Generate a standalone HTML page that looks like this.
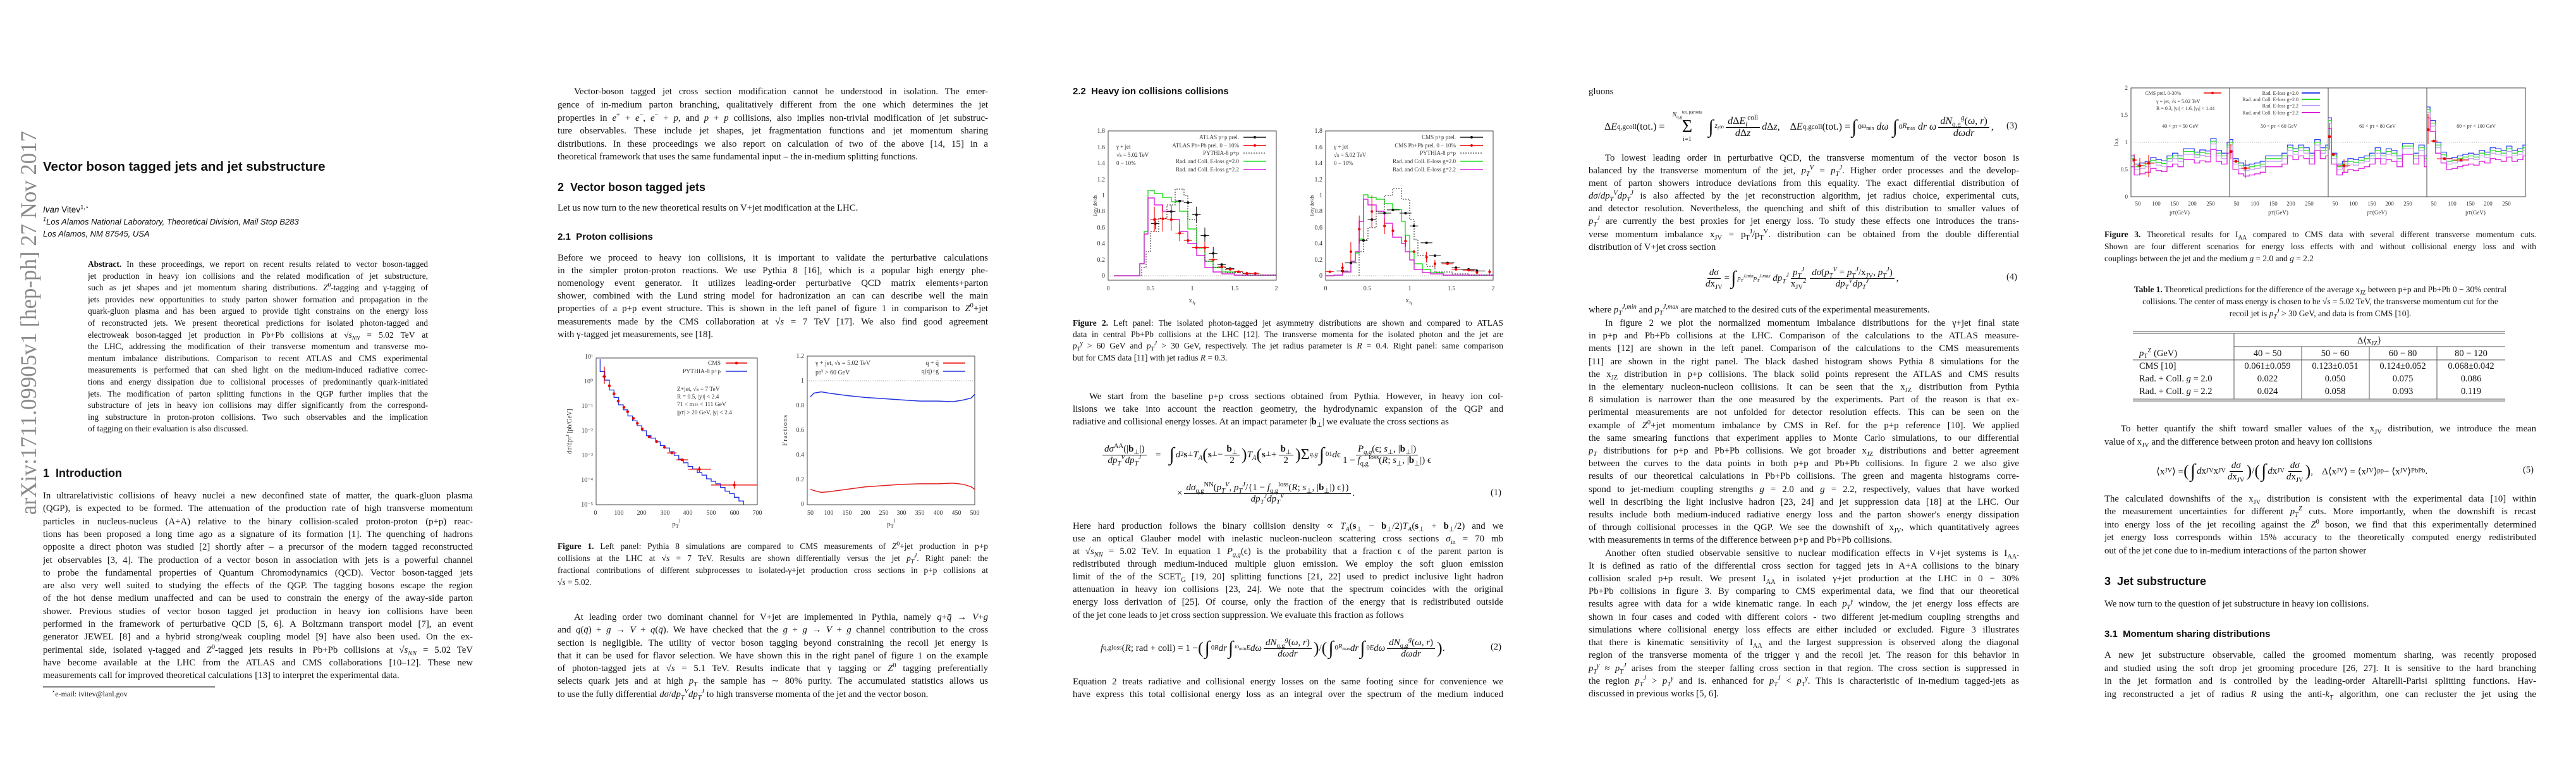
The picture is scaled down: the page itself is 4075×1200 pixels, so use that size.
<!DOCTYPE html>
<html><head><meta charset="utf-8">
<style>
html,body{margin:0;padding:0;background:#fff}
body{width:4075px;height:1200px;position:relative;overflow:hidden;font-family:"Liberation Serif",serif;color:#111}
.c{position:absolute;top:0}
.l{position:absolute;left:0;right:0;height:20px;line-height:20px;font-size:14.8px;text-align:justify;text-align-last:justify;overflow:hidden;white-space:normal}
.s{font-size:13.4px;height:19px;line-height:19px}
.e{text-align-last:left}
.i{text-indent:26px}
.ctr{text-align:center;text-align-last:center}
sup,sub{font-size:70%;line-height:0}
.h1{position:absolute;font-family:"Liberation Sans",sans-serif;font-weight:bold;font-size:18px;white-space:nowrap}
.h2{position:absolute;font-family:"Liberation Sans",sans-serif;font-weight:bold;font-size:15px;white-space:nowrap}
.eq{position:absolute;display:flex;align-items:center;white-space:nowrap;font-size:15px;height:60px}
.fr{display:inline-flex;flex-direction:column;align-items:center;vertical-align:middle;margin:0 3px}
.fr>span:first-child{border-bottom:1px solid #000;padding:0 3px}
.int{font-size:30px;margin:0 2px}
.it{font-style:italic}
</style></head><body>

<svg width="4075" height="1200" style="position:absolute;left:0;top:0" font-family="Liberation Serif,serif">
<text transform="translate(57,814) rotate(-90)" font-size="36" fill="#8a8a8a" textLength="607" lengthAdjust="spacingAndGlyphs">arXiv:1711.09905v1  [hep-ph]  27 Nov 2017</text>
<line x1="68" y1="1086" x2="340" y2="1086" stroke="#000" stroke-width="1"/>

<!-- FIG 1 LEFT -->
<rect x="943" y="566" width="255" height="232" fill="none" stroke="#444" stroke-width="1"/>
<g font-size="10" text-anchor="end" fill="#333">
<text x="938" y="567">10¹</text><text x="938" y="606">10⁰</text><text x="938" y="645">10⁻¹</text><text x="938" y="684">10⁻²</text><text x="938" y="723">10⁻³</text><text x="938" y="762">10⁻⁴</text><text x="938" y="801">10⁻⁵</text>
</g>
<g font-size="10" text-anchor="middle" fill="#333">
<text x="942" y="814">0</text><text x="979" y="814">100</text><text x="1015" y="814">200</text><text x="1052" y="814">300</text><text x="1088" y="814">400</text><text x="1125" y="814">500</text><text x="1162" y="814">600</text><text x="1198" y="814">700</text>
<text x="1070" y="832" font-size="11">p<tspan font-size="8" dy="3">T</tspan><tspan font-size="8" dy="-9">J</tspan></text>
</g>
<text transform="translate(904,682) rotate(-90)" font-size="10" text-anchor="middle" fill="#333">dσ/dp<tspan font-size="7">T</tspan><tspan font-size="7" dy="-4">J</tspan><tspan dy="4"> [pb/GeV]</tspan></text>
<g transform="translate(942,603) scale(0.366,-39)" fill="none">
<path vector-effect="non-scaling-stroke" stroke="#2233dd" stroke-width="1.3" d="M20,0.9 V.4 H40 V.05 H60 V-.35 H80 V-.65 H100 V-.95 H120 V-1.15 H140 V-1.4 H160 V-1.6 H180 V-1.8 H200 V-2 H220 V-2.2 H240 V-2.3 H260 V-2.45 H280 V-2.6 H300 V-2.7 H320 V-2.85 H340 V-3 H360 V-3.15 H380 V-3.3 H400 V-3.45 H420 V-3.55 H440 V-3.7 H460 V-3.8 H480 V-3.95 H500 V-4.05 H520 V-4.15 H540 V-4.3 H560 V-4.45 H580 V-4.55 H600 V-4.7 H620 V-4.85 H640 V-5"/>
<path vector-effect="non-scaling-stroke" stroke="#e00" stroke-width="4.5" stroke-linecap="round" d="M38,.2h.1 M60,-.18h.1 M80,-.5h.1 M98,-.8h.1 M123,-1.05h.1 M139,-1.23h.1 M164,-1.5h.1 M181,-1.7h.1 M202,-1.93h.1 M232,-2.25h.1 M264,-2.44h.1 M298,-2.67h.1 M330,-2.9h.1 M374,-3.18h.1 M449,-3.56h.1 M600,-4.2h.1"/>
<path vector-effect="non-scaling-stroke" stroke="#e00" stroke-width="1.3" d="M30,.2H46 M38,.6V-.1 M400,-3.56H500 M500,-4.2H700 M350,-3.18H400 M310,-2.9H350 M449,-3.45V-3.67 M600,-4.05V-4.35"/>
</g>
<g font-size="9.5" fill="#333">
<text x="1140" y="577" text-anchor="end">CMS</text><text x="1140" y="590" text-anchor="end">PYTHIA-8 p+p</text>
<text x="1071" y="618">Z+jet, √s = 7 TeV</text><text x="1071" y="630">R = 0.5, |y<tspan font-size="7">J</tspan>| &lt; 2.4</text><text x="1071" y="642">71 &lt; m<tspan font-size="7">ℓℓ</tspan> &lt; 111 GeV</text><text x="1071" y="655">|p<tspan font-size="7">T</tspan>| &gt; 20 GeV, |y| &lt; 2.4</text>
</g>
<line x1="1148" y1="574" x2="1182" y2="574" stroke="#e00" stroke-width="1.5"/><circle cx="1165" cy="574" r="2.3" fill="#e00"/>
<line x1="1148" y1="587" x2="1182" y2="587" stroke="#2233dd" stroke-width="1.5"/>

<!-- FIG 1 RIGHT -->
<rect x="1277" y="563" width="265" height="235" fill="none" stroke="#444"/>
<line x1="1277" y1="602" x2="1542" y2="602" stroke="#999" stroke-dasharray="1,2"/>
<g font-size="10" text-anchor="end" fill="#333">
<text x="1272" y="566">1.2</text><text x="1272" y="605">1</text><text x="1272" y="644">0.8</text><text x="1272" y="683">0.6</text><text x="1272" y="722">0.4</text><text x="1272" y="761">0.2</text><text x="1272" y="800">0</text>
</g>
<g font-size="10" text-anchor="middle" fill="#333">
<text x="1282" y="814">50</text><text x="1311" y="814">100</text><text x="1340" y="814">150</text><text x="1369" y="814">200</text><text x="1398" y="814">250</text><text x="1426" y="814">300</text><text x="1455" y="814">350</text><text x="1484" y="814">400</text><text x="1513" y="814">450</text><text x="1542" y="814">500</text>
<text x="1410" y="832" font-size="11">p<tspan font-size="8" dy="3">T</tspan><tspan font-size="8" dy="-9">J</tspan></text>
</g>
<text transform="translate(1245,680) rotate(-90)" font-size="11" text-anchor="middle" fill="#333" letter-spacing="1">Fractions</text>
<g transform="translate(1253,797) scale(0.578,-195)" fill="none">
<path vector-effect="non-scaling-stroke" stroke="#2233dd" stroke-width="1.5" d="M50,.87 L60,.9 L80,.91 L100,.9 L150,.88 L200,.865 L250,.855 L300,.845 L350,.835 L400,.835 L440,.83 L470,.845 L490,.86 L500,.89"/>
<path vector-effect="non-scaling-stroke" stroke="#e02020" stroke-width="1.5" d="M50,.12 L60,.11 L80,.095 L100,.1 L150,.12 L200,.14 L250,.15 L300,.16 L350,.165 L400,.165 L440,.17 L470,.16 L490,.14 L500,.12"/>
</g>
<g font-size="10" fill="#333">
<text x="1290" y="577">γ + jet, √s = 5.02 TeV</text><text x="1290" y="592">p<tspan font-size="7">T</tspan><tspan font-size="7" dy="-4">γ</tspan><tspan dy="4"> &gt; 60 GeV</tspan></text>
<text x="1485" y="577" text-anchor="end">q + q̄</text><text x="1485" y="590" text-anchor="end">q(q̄)+g</text>
</g>
<line x1="1492" y1="574" x2="1527" y2="574" stroke="#e00" stroke-width="1.5"/>
<line x1="1492" y1="587" x2="1527" y2="587" stroke="#2233dd" stroke-width="1.5"/>

<!-- FIG 2 -->
<rect x="1753" y="207" width="266" height="236" fill="none" stroke="#444"/>
<rect x="2097" y="207" width="265" height="236" fill="none" stroke="#444"/>
<line x1="1753" y1="436" x2="2019" y2="436" stroke="#aaa" stroke-dasharray="1,2"/>
<line x1="2097" y1="436" x2="2362" y2="436" stroke="#aaa" stroke-dasharray="1,2"/>
<g font-size="10" text-anchor="end" fill="#333">
<text x="1748" y="210">1.8</text><text x="1748" y="236">1.6</text><text x="1748" y="261">1.4</text><text x="1748" y="287">1.2</text><text x="1748" y="312">1</text><text x="1748" y="337">0.8</text><text x="1748" y="363">0.6</text><text x="1748" y="388">0.4</text><text x="1748" y="414">0.2</text><text x="1748" y="439">0</text>
<text x="2092" y="210">1.8</text><text x="2092" y="236">1.6</text><text x="2092" y="261">1.4</text><text x="2092" y="287">1.2</text><text x="2092" y="312">1</text><text x="2092" y="337">0.8</text><text x="2092" y="363">0.6</text><text x="2092" y="388">0.4</text><text x="2092" y="414">0.2</text><text x="2092" y="439">0</text>
</g>
<g font-size="10" text-anchor="middle" fill="#333">
<text x="1753" y="459">0</text><text x="1820" y="459">0.5</text><text x="1886" y="459">1</text><text x="1953" y="459">1.5</text><text x="2019" y="459">2</text>
<text x="2097" y="459">0</text><text x="2163" y="459">0.5</text><text x="2230" y="459">1</text><text x="2296" y="459">1.5</text><text x="2362" y="459">2</text>
<text x="1886" y="478">x<tspan font-size="7" dy="3">Jγ</tspan></text><text x="2229" y="478">x<tspan font-size="7" dy="3">Jγ</tspan></text>
</g>
<text transform="translate(1735,325) rotate(-90)" font-size="8" text-anchor="middle" fill="#333">1/σγ  dσ/dx</text>
<text transform="translate(2078,325) rotate(-90)" font-size="8" text-anchor="middle" fill="#333">1/σγ  dσ/dx</text>
<g fill="none" stroke-width="1.4">
<path stroke="#22dd22" d="M1762,436 H1803 V417 H1810 V366 H1816 V301 H1826 V306 H1839 V312 H1853 V319 H1866 V334 H1879 V362 H1893 V392 H1906 V413 H1919 V423 H1933 V430 H1953 V435 H2019"/>
<path stroke="#dd22dd" d="M1762,436 H1803 V417 H1810 V370 H1816 V313 H1826 V324 H1839 V334 H1853 V347 H1866 V366 H1879 V385 H1893 V404 H1906 V423 H1919 V430 H1933 V433 H1953 V435 H2019"/>
<path stroke="#222" stroke-dasharray="2,2" stroke-width="1" d="M1806,436 V423 H1813 V398 H1820 V366 H1833 V345 H1846 V324 H1859 V299 H1873 V309 H1879 V347 H1893 V392 H1906 V413 H1919 V423 H1939 V431 H1966 V435 H2019"/>
<path stroke="#22dd22" d="M2097,436 H2110 V435 H2124 V430 H2137 V413 H2144 V400 H2150 V378 H2157 V308 H2164 V312 H2177 V315 H2190 V322 H2203 V331 H2217 V350 H2223 V372 H2230 V398 H2237 V417 H2250 V426 H2263 V431 H2283 V435 H2363"/>
<path stroke="#dd22dd" d="M2097,436 H2110 V435 H2124 V430 H2137 V413 H2144 V398 H2150 V350 H2157 V315 H2164 V324 H2177 V334 H2190 V353 H2203 V375 H2217 V385 H2223 V398 H2230 V411 H2237 V426 H2250 V431 H2263 V433 H2283 V435 H2363"/>
<path stroke="#222" stroke-dasharray="2,2" stroke-width="1" d="M2150,436 V398 H2157 V379 H2164 V360 H2177 V334 H2190 V309 H2203 V298 H2217 V315 H2230 V347 H2237 V379 H2243 V404 H2257 V421 H2270 V430 H2297 V433 H2323 V435 H2363"/>
</g>
<g transform="translate(1753,436) scale(133,-127)" fill="none">
<path vector-effect="non-scaling-stroke" stroke="#111" stroke-width="4" stroke-linecap="round" d="M.56,.65h.001 M.75,.8h.001 M.85,.93h.001 M.95,.91h.001 M1.05,.76h.001 M1.15,.5h.001 M1.25,.28h.001 M1.35,.14h.001 M1.45,.09h.001 M1.55,.05h.001 M1.65,.03h.001"/>
<path vector-effect="non-scaling-stroke" stroke="#111" stroke-width="1" d="M.51,.65H.61 M.56,.58V.72 M.7,.8H.8 M.75,.72V.88 M.8,.93H.9 M.9,.91H1 M1,.76H1.1 M1.05,.66V.86 M1.1,.5H1.2 M1.15,.42V.6 M1.2,.28H1.3 M1.25,.22V.36 M1.3,.14H1.4 M1.4,.09H1.5 M1.5,.05H1.6 M1.6,.03H1.7"/>
<path vector-effect="non-scaling-stroke" stroke="#e00" stroke-width="4" stroke-linecap="round" d="M.55,.7h.001 M.65,.71h.001 M.75,.7h.001 M.85,.53h.001 M.95,.44h.001 M1.05,.35h.001 M1.15,.35h.001 M1.25,.2h.001 M1.35,.11h.001 M1.45,.08h.001 M1.55,.05h.001 M1.65,.03h.001 M1.75,.03h.001"/>
<path vector-effect="non-scaling-stroke" stroke="#e00" stroke-width="1" d="M.5,.7H.6 M.55,.55V.86 M.6,.71H.7 M.65,.55V.88 M.7,.7H.8 M.75,.56V.84 M.8,.53H.9 M.85,.43V.64 M.9,.44H1 M1,.35H1.1 M1.1,.35H1.2 M1.15,.3V.42 M1.2,.2H1.3 M1.3,.11H1.4 M1.4,.08H1.5 M1.5,.05H1.6 M1.6,.03H1.7 M1.7,.03H1.8"/>
</g>
<g transform="translate(2097,436) scale(133,-127)" fill="none">
<path vector-effect="non-scaling-stroke" stroke="#111" stroke-width="4" stroke-linecap="round" d="M.2,.06h.001 M.3,.16h.001 M.45,.44h.001 M.55,.7h.001 M.7,.78h.001 M.8,.82h.001 M.95,.78h.001 M1.05,.62h.001 M1.2,.41h.001 M1.3,.25h.001 M1.45,.16h.001 M1.55,.1h.001 M1.7,.08h.001 M1.8,.06h.001"/>
<path vector-effect="non-scaling-stroke" stroke="#111" stroke-width="1" d="M.13,.06H.27 M.23,.16H.37 M.4,.44H.5 M.5,.7H.6 M.62,.78H.78 M.73,.82H.88 M.88,.78H1.02 M1,.62H1.1 M1.13,.41H1.27 M1.23,.25H1.37 M1.37,.16H1.53 M1.5,.1H1.6 M1.6,.08H1.8 M1.7,.06H1.9"/>
<path vector-effect="non-scaling-stroke" stroke="#e00" stroke-width="4" stroke-linecap="round" d="M.05,.05h.001 M.2,.1h.001 M.3,.3h.001 M.4,.58h.001 M.55,.8h.001 M.7,.62h.001 M.8,.56h.001 M.95,.43h.001 M1.05,.3h.001 M1.2,.23h.001 M1.3,.15h.001 M1.45,.15h.001 M1.55,.08h.001 M1.7,.07h.001 M1.8,.04h.001 M1.95,.05h.001"/>
<path vector-effect="non-scaling-stroke" stroke="#e00" stroke-width="1" d="M0,.05H.1 M.2,.04V.16 M.3,.18V.42 M.4,.4V.75 M.55,.6V1 M.7,.52V.72 M.8,.5V.62 M.95,.36V.5 M1.2,.17V.3 M1.3,.1V.2 M1.38,.15H1.52 M1.5,.08H1.6 M1.63,.07H1.77 M1.95,.02V.08"/>
</g>
<g font-size="9" fill="#333" text-anchor="end">
<text x="1960" y="220">ATLAS p+p prel.</text><text x="1960" y="233">ATLAS Pb+Pb prel. 0 − 10%</text><text x="1960" y="245">PYTHIA-8 p+p</text><text x="1960" y="258">Rad. and Coll. E-loss g=2.0</text><text x="1960" y="271">Rad. and Coll. E-loss g=2.2</text>
<text x="2303" y="220">CMS p+p prel.</text><text x="2303" y="233">CMS Pb+Pb prel. 0 − 10%</text><text x="2303" y="245">PYTHIA-8 p+p</text><text x="2303" y="258">Rad. and Coll. E-loss g=2.0</text><text x="2303" y="271">Rad. and Coll. E-loss g=2.2</text>
</g>
<g font-size="9" fill="#333">
<text x="1766" y="235">γ + jet</text><text x="1766" y="248">√s = 5.02 TeV</text><text x="1766" y="261">0 − 10%</text>
<text x="2110" y="235">γ + jet</text><text x="2110" y="248">√s = 5.02 TeV</text><text x="2110" y="261">0 − 10%</text>
</g>
<g stroke-width="1.5">
<line x1="1967" y1="217" x2="2003" y2="217" stroke="#111"/><circle cx="1985" cy="217" r="2" fill="#111"/>
<line x1="1967" y1="230" x2="2003" y2="230" stroke="#e00"/><circle cx="1985" cy="230" r="2" fill="#e00"/>
<line x1="1967" y1="242" x2="2003" y2="242" stroke="#111" stroke-dasharray="2,2" stroke-width="1"/>
<line x1="1967" y1="255" x2="2003" y2="255" stroke="#22dd22"/>
<line x1="1967" y1="268" x2="2003" y2="268" stroke="#dd22dd"/>
<line x1="2310" y1="217" x2="2346" y2="217" stroke="#111"/><circle cx="2328" cy="217" r="2" fill="#111"/>
<line x1="2310" y1="230" x2="2346" y2="230" stroke="#e00"/><circle cx="2328" cy="230" r="2" fill="#e00"/>
<line x1="2310" y1="242" x2="2346" y2="242" stroke="#111" stroke-dasharray="2,2" stroke-width="1"/>
<line x1="2310" y1="255" x2="2346" y2="255" stroke="#22dd22"/>
<line x1="2310" y1="268" x2="2346" y2="268" stroke="#dd22dd"/>
</g>

<!-- FIG 3 -->
<defs>
<path id="b1" vector-effect="non-scaling-stroke" d="M31,.75 H40 V.6 H55 V.62 H70 V.65 H85 V.72 H100 V.68 H115 V.66 H130 V.75 H145 V.8 H160 V.75 H175 V.88 H190 V.88 H205 V.82 H220 V.86 H235 V.84 H250 V1.07 H265 V.85 H280 V.8 H295 V1 H302"/>
<path id="b2" vector-effect="non-scaling-stroke" d="M31,1.05 H40 V.7 H55 V.62 H70 V.58 H85 V.6 H100 V.62 H115 V.65 H130 V.75 H145 V.75 H160 V.75 H175 V.8 H190 V.95 H205 V.88 H220 V.95 H235 V.9 H250 V.8 H265 V1.05 H280 V.9 H295 V.95 H302"/>
<path id="b3" vector-effect="non-scaling-stroke" d="M31,1.45 H40 V.8 H55 V.6 H70 V.65 H85 V.7 H100 V.68 H115 V.72 H130 V.75 H145 V.8 H160 V.9 H175 V.8 H190 V.88 H205 V.85 H220 V.75 H235 V.98 H250 V.98 H265 V.8 H280 V.95 H295 V.75 H302"/>
<path id="b4" vector-effect="non-scaling-stroke" d="M31,1.65 H40 V1.4 H55 V1 H70 V.82 H85 V.7 H100 V.72 H115 V.75 H130 V.78 H145 V.8 H160 V.78 H175 V.85 H190 V.82 H205 V.9 H220 V.88 H235 V.85 H250 V.93 H265 V.85 H280 V.88 H295 V.95 H302"/>
</defs>
<rect x="3371" y="139" width="624" height="172" fill="none" stroke="#444"/>
<line x1="3527" y1="139" x2="3527" y2="311" stroke="#444"/><line x1="3683" y1="139" x2="3683" y2="311" stroke="#444"/><line x1="3839" y1="139" x2="3839" y2="311" stroke="#444"/>
<line x1="3371" y1="225" x2="3995" y2="225" stroke="#aaa" stroke-dasharray="1,2"/>
<g font-size="9" text-anchor="end" fill="#333">
<text x="3366" y="142">2</text><text x="3366" y="185">1.5</text><text x="3366" y="228">1</text><text x="3366" y="271">0.5</text><text x="3366" y="314">0</text>
</g>
<text transform="translate(3351,225) rotate(-90)" font-size="9" text-anchor="middle" fill="#333">I<tspan font-size="7">AA</tspan></text>
<g font-size="9" text-anchor="middle" fill="#333">
<text x="3382" y="325">50</text><text x="3411" y="325">100</text><text x="3440" y="325">150</text><text x="3468" y="325">200</text><text x="3497" y="325">250</text><text x="3448" y="339">p<tspan font-size="7">T</tspan>(GeV)</text>
<text x="3538" y="325">50</text><text x="3567" y="325">100</text><text x="3596" y="325">150</text><text x="3624" y="325">200</text><text x="3653" y="325">250</text><text x="3604" y="339">p<tspan font-size="7">T</tspan>(GeV)</text>
<text x="3694" y="325">50</text><text x="3723" y="325">100</text><text x="3752" y="325">150</text><text x="3780" y="325">200</text><text x="3809" y="325">250</text><text x="3760" y="339">p<tspan font-size="7">T</tspan>(GeV)</text>
<text x="3850" y="325">50</text><text x="3879" y="325">100</text><text x="3908" y="325">150</text><text x="3936" y="325">200</text><text x="3965" y="325">250</text><text x="3916" y="339">p<tspan font-size="7">T</tspan>(GeV)</text>
<text x="3449" y="202" font-size="8">40 &lt; p<tspan font-size="6">T</tspan> &lt; 50 GeV</text>
<text x="3605" y="202" font-size="8">50 &lt; p<tspan font-size="6">T</tspan> &lt; 60 GeV</text>
<text x="3761" y="202" font-size="8">60 &lt; p<tspan font-size="6">T</tspan> &lt; 80 GeV</text>
<text x="3917" y="202" font-size="8">80 &lt; p<tspan font-size="6">T</tspan> &lt; 100 GeV</text>
</g>
<g fill="none" stroke-width="1.3">
<g transform="translate(3353.1,311) scale(0.576,-86)"><use href="#b1" stroke="#3344ee"/><use href="#b1" stroke="#33dd33" transform="translate(0,-0.05)"/><use href="#b1" stroke="#c9a0f2" transform="translate(0,-0.1)"/><use href="#b1" stroke="#dd22dd" transform="translate(0,-0.2)"/></g>
<g transform="translate(3509.1,311) scale(0.576,-86)"><use href="#b2" stroke="#3344ee"/><use href="#b2" stroke="#33dd33" transform="translate(0,-0.05)"/><use href="#b2" stroke="#c9a0f2" transform="translate(0,-0.1)"/><use href="#b2" stroke="#dd22dd" transform="translate(0,-0.2)"/></g>
<g transform="translate(3665.1,311) scale(0.576,-86)"><use href="#b3" stroke="#3344ee"/><use href="#b3" stroke="#33dd33" transform="translate(0,-0.05)"/><use href="#b3" stroke="#c9a0f2" transform="translate(0,-0.1)"/><use href="#b3" stroke="#dd22dd" transform="translate(0,-0.2)"/></g>
<g transform="translate(3821.1,311) scale(0.576,-86)"><use href="#b4" stroke="#3344ee"/><use href="#b4" stroke="#33dd33" transform="translate(0,-0.05)"/><use href="#b4" stroke="#c9a0f2" transform="translate(0,-0.1)"/><use href="#b4" stroke="#dd22dd" transform="translate(0,-0.2)"/></g>
</g>
<g fill="#e00">
<circle cx="3376" cy="253" r="2.3"/><circle cx="3385" cy="262" r="2.3"/><circle cx="3399" cy="258" r="2.3"/>
<circle cx="3529" cy="240" r="2.3"/><circle cx="3537" cy="255" r="2.3"/><circle cx="3552" cy="266" r="2.3"/>
<circle cx="3685" cy="216" r="2.3"/><circle cx="3691" cy="244" r="2.3"/><circle cx="3708" cy="262" r="2.3"/>
<circle cx="3841" cy="205" r="2.3"/><circle cx="3850" cy="223" r="2.3"/><circle cx="3867" cy="251" r="2.3"/><circle cx="3893" cy="253" r="2.3"/>
</g>
<g stroke="#e00" stroke-width="1">
<path d="M3373,253H3381M3376,243V263M3380,262H3392M3385,250V275M3390,258H3408M3399,245V280"/>
<path d="M3527,240H3532M3529,228V252M3533,255H3542M3545,266H3560M3552,253V282"/>
<path d="M3683,216H3688M3685,195V237M3688,244H3695M3697,262H3718M3708,252V272"/>
<path d="M3839,205H3844M3841,180V228M3845,223H3856M3855,251H3880M3881,253H3906"/>
</g>
<g font-size="8" fill="#333">
<text x="3450" y="150" text-anchor="end">CMS prel. 0-30%</text>
<text x="3411" y="163">γ + jet, √s = 5.02 TeV</text>
<text x="3411" y="174">R = 0.3, |y<tspan font-size="6">J</tspan>| &lt; 1.6, |y<tspan font-size="6">γ</tspan>| &lt; 1.44</text>
<text x="3636" y="150" text-anchor="end">Rad. E-loss g=2.0</text><text x="3636" y="160" text-anchor="end">Rad. and Coll. E-loss g=2.0</text><text x="3636" y="170" text-anchor="end">Rad. E-loss g=2.2</text><text x="3636" y="181" text-anchor="end">Rad. and Coll. E-loss g=2.2</text>
</g>
<line x1="3486" y1="147" x2="3514" y2="147" stroke="#e00" stroke-width="1.5"/><circle cx="3500" cy="147" r="2" fill="#e00"/>
<line x1="3641" y1="147" x2="3670" y2="147" stroke="#3344ee" stroke-width="2"/>
<line x1="3641" y1="157" x2="3670" y2="157" stroke="#33dd33" stroke-width="2"/>
<line x1="3641" y1="167" x2="3670" y2="167" stroke="#c9a0f2" stroke-width="2"/>
<line x1="3641" y1="178" x2="3670" y2="178" stroke="#dd22dd" stroke-width="2"/>

<!-- TABLE -->
<g stroke="#555" stroke-width="1">
<line x1="3374" y1="524" x2="3963" y2="524"/><line x1="3374" y1="527" x2="3963" y2="527"/>
<line x1="3534" y1="548" x2="3963" y2="548"/>
<line x1="3374" y1="569" x2="3963" y2="569"/>
<line x1="3374" y1="631" x2="3963" y2="631"/><line x1="3374" y1="634" x2="3963" y2="634"/>
<line x1="3534" y1="527" x2="3534" y2="631"/>
<line x1="3641" y1="548" x2="3641" y2="631"/><line x1="3748" y1="548" x2="3748" y2="631"/><line x1="3855" y1="548" x2="3855" y2="631"/>
</g>
<g font-size="14.5" text-anchor="middle" fill="#111">
<text x="3748" y="543">Δ⟨x<tspan font-size="10" dy="3">JZ</tspan><tspan dy="-3">⟩</tspan></text>
<text x="3587" y="563">40 − 50</text><text x="3694" y="563">50 − 60</text><text x="3801" y="563">60 − 80</text><text x="3909" y="563">80 − 120</text>
<text x="3587" y="583">0.061±0.059</text><text x="3694" y="583">0.123±0.051</text><text x="3801" y="583">0.124±0.052</text><text x="3909" y="583">0.068±0.042</text>
<text x="3587" y="603">0.022</text><text x="3694" y="603">0.050</text><text x="3801" y="603">0.075</text><text x="3909" y="603">0.086</text>
<text x="3587" y="623">0.024</text><text x="3694" y="623">0.058</text><text x="3801" y="623">0.093</text><text x="3909" y="623">0.119</text>
</g>
<g font-size="14.5" fill="#111">
<text x="3384" y="563"><tspan font-style="italic">p</tspan><tspan font-size="10" dy="3">T</tspan><tspan font-size="10" dy="-9">Z</tspan><tspan dy="6"> (GeV)</tspan></text>
<text x="3384" y="583">CMS [10]</text>
<text x="3384" y="603">Rad. + Coll. <tspan font-style="italic">g</tspan> = 2.0</text>
<text x="3384" y="623">Rad. + Coll. <tspan font-style="italic">g</tspan> = 2.2</text>
</g>
</svg>

<!-- PAGE 1 -->
<div style="position:absolute;left:68px;top:252px;font-family:'Liberation Sans',sans-serif;font-weight:bold;font-size:20.5px;white-space:nowrap">Vector boson tagged jets and jet substructure</div>
<div style="position:absolute;left:68px;top:324px;font-family:'Liberation Sans',sans-serif;font-size:13.5px;white-space:nowrap"><i>Ivan</i> Vitev<sup>1,⋆</sup></div>
<div style="position:absolute;left:68px;top:341px;font-family:'Liberation Sans',sans-serif;font-style:italic;font-size:13px;line-height:19px;white-space:nowrap"><sup>1</sup>Los Alamos National Laboratory, Theoretical Division, Mail Stop B283<br>Los Alamos, NM 87545, USA</div>

<div class="c" style="left:139px;width:538px">
<div class="l s" style="top:408px"><b>Abstract.</b> In these proceedings, we report on recent results related to vector boson-tagged</div>
<div class="l s" style="top:427px">jet production in heavy ion collisions and the related modification of jet substructure,</div>
<div class="l s" style="top:445px">such as jet shapes and jet momentum sharing distributions. <i>Z</i><sup>0</sup>-tagging and γ-tagging of</div>
<div class="l s" style="top:464px">jets provides new opportunities to study parton shower formation and propagation in the</div>
<div class="l s" style="top:482px">quark-gluon plasma and has been argued to provide tight constrains on the energy loss</div>
<div class="l s" style="top:501px">of reconstructed jets. We present theoretical predictions for isolated photon-tagged and</div>
<div class="l s" style="top:520px">electroweak boson-tagged jet production in Pb+Pb collisions at √<i>s<sub>NN</sub></i> = 5.02 TeV at</div>
<div class="l s" style="top:538px">the LHC, addressing the modification of their transverse momentum and transverse mo-</div>
<div class="l s" style="top:557px">mentum imbalance distributions. Comparison to recent ATLAS and CMS experimental</div>
<div class="l s" style="top:575px">measurements is performed that can shed light on the medium-induced radiative correc-</div>
<div class="l s" style="top:594px">tions and energy dissipation due to collisional processes of predominantly quark-initiated</div>
<div class="l s" style="top:613px">jets. The modification of parton splitting functions in the QGP further implies that the</div>
<div class="l s" style="top:631px">substructure of jets in heavy ion collisions may differ significantly from the correspond-</div>
<div class="l s" style="top:650px">ing substructure in proton-proton collisions. Two such observables and the implication</div>
<div class="l s e" style="top:668px">of tagging on their evaluation is also discussed.</div>
</div>

<div class="h1" style="left:68px;top:738px">1&nbsp; Introduction</div>
<div class="c" style="left:68px;width:680px">
<div class="l" style="top:774px">In ultrarelativistic collisions of heavy nuclei a new deconfined state of matter, the quark-gluon plasma</div>
<div class="l" style="top:794px">(QGP), is expected to be formed. The attenuation of the production rate of high transverse momentum</div>
<div class="l" style="top:815px">particles in nucleus-nucleus (A+A) relative to the binary collision-scaled proton-proton (p+p) reac-</div>
<div class="l" style="top:835px">tions has been proposed a long time ago as a signature of its formation [1]. The quenching of hadrons</div>
<div class="l" style="top:855px">opposite a direct photon was studied [2] shortly after – a precursor of the modern tagged reconstructed</div>
<div class="l" style="top:876px">jet observables [3, 4]. The production of a vector boson in association with jets is a powerful channel</div>
<div class="l" style="top:896px">to probe the fundamental properties of Quantum Chromodynamics (QCD). Vector boson-tagged jets</div>
<div class="l" style="top:916px">are also very well suited to studying the effects of the QGP. The tagging bosons escape the region</div>
<div class="l" style="top:936px">of the hot dense medium unaffected and can be used to constrain the energy of the away-side parton</div>
<div class="l" style="top:957px">shower. Previous studies of vector boson tagged jet production in heavy ion collisions have been</div>
<div class="l" style="top:977px">performed in the framework of perturbative QCD [5, 6]. A Boltzmann transport model [7], an event</div>
<div class="l" style="top:997px">generator JEWEL [8] and a hybrid strong/weak coupling model [9] have also been used. On the ex-</div>
<div class="l" style="top:1018px">perimental side, isolated γ-tagged and <i>Z</i><sup>0</sup>-tagged jets results in Pb+Pb collisions at √<i>s<sub>NN</sub></i> = 5.02 TeV</div>
<div class="l" style="top:1038px">have become available at the LHC from the ATLAS and CMS collaborations [10–12]. These new</div>
<div class="l e" style="top:1058px">measurements call for improved theoretical calculations [13] to interpret the experimental data.</div>
</div>
<div style="position:absolute;left:82px;top:1090px;font-size:12px;white-space:nowrap"><sup>⋆</sup>e-mail: ivitev@lanl.gov</div>

<!-- PAGE 2 -->
<div class="c" style="left:882px;width:681px">
<div class="l i" style="top:135px">Vector-boson tagged jet cross section modification cannot be understood in isolation. The emer-</div>
<div class="l" style="top:156px">gence of in-medium parton branching, qualitatively different from the one which determines the jet</div>
<div class="l" style="top:177px">properties in <i>e</i><sup>+</sup> + <i>e</i><sup>−</sup>, <i>e</i><sup>−</sup> + <i>p</i>, and <i>p</i> + <i>p</i> collisions, also implies non-trivial modification of jet substruc-</div>
<div class="l" style="top:197px">ture observables. These include jet shapes, jet fragmentation functions and jet momentum sharing</div>
<div class="l" style="top:218px">distributions. In these proceedings we also report on calculation of two of the above [14, 15] in a</div>
<div class="l e" style="top:238px">theoretical framework that uses the same fundamental input – the in-medium splitting functions.</div>
<div class="l e" style="top:319px">Let us now turn to the new theoretical results on V+jet modification at the LHC.</div>
<div class="l" style="top:398px">Before we proceed to heavy ion collisions, it is important to validate the perturbative calculations</div>
<div class="l" style="top:418px">in the simpler proton-proton reactions. We use Pythia 8 [16], which is a popular high energy phe-</div>
<div class="l" style="top:438px">nomenology event generator. It utilizes leading-order perturbative QCD matrix elements+parton</div>
<div class="l" style="top:458px">shower, combined with the Lund string model for hadronization an can can describe well the main</div>
<div class="l" style="top:478px">properties of a p+p event structure. This is shown in the left panel of figure 1 in comparison to <i>Z</i><sup>0</sup>+jet</div>
<div class="l" style="top:499px">measurements made by the CMS collaboration at √<i>s</i> = 7 TeV [17]. We also find good agreement</div>
<div class="l e" style="top:519px">with γ-tagged jet measurements, see [18].</div>
<div class="l s" style="top:854px"><b>Figure 1.</b> Left panel: Pythia 8 simulations are compared to CMS measurements of <i>Z</i><sup>0</sup>+jet production in p+p</div>
<div class="l s" style="top:873px">collisions at the LHC at √<i>s</i> = 7 TeV. Results are shown differentially versus the jet <i>p<sub>T</sub><sup>J</sup></i>. Right panel: the</div>
<div class="l s" style="top:892px">fractional contributions of different subprocesses to isolated-γ+jet production cross sections in p+p collisions at</div>
<div class="l s e" style="top:911px">√<i>s</i> = 5.02.</div>
<div class="l i" style="top:966px">At leading order two dominant channel for V+jet are implemented in Pythia, namely <i>q</i>+<i>q̄</i> → <i>V</i>+<i>g</i></div>
<div class="l" style="top:986px">and <i>q</i>(<i>q̄</i>) + <i>g</i> → <i>V</i> + <i>q</i>(<i>q̄</i>). We have checked that the <i>g</i> + <i>g</i> → <i>V</i> + <i>g</i> channel contribution to the cross</div>
<div class="l" style="top:1007px">section is negligible. The utility of vector boson tagging beyond constraining the recoil jet energy is</div>
<div class="l" style="top:1027px">that it can be used for flavor selection. We have shown this in the right panel of figure 1 on the example</div>
<div class="l" style="top:1047px">of photon-tagged jets at √<i>s</i> = 5.1 TeV. Results indicate that γ tagging or <i>Z</i><sup>0</sup> tagging preferentially</div>
<div class="l" style="top:1067px">selects quark jets and at high <i>p<sub>T</sub></i> the sample has ∼ 80% purity. The accumulated statistics allows us</div>
<div class="l e" style="top:1088px">to use the fully differential <i>dσ</i>/<i>dp<sub>T</sub><sup>V</sup>dp<sub>T</sub><sup>J</sup></i> to high transverse momenta of the jet and the vector boson.</div>
</div>
<div class="h1" style="left:882px;top:286px">2&nbsp; Vector boson tagged jets</div>
<div class="h2" style="left:882px;top:366px">2.1&nbsp; Proton collisions</div>

<!-- PAGE 3 -->
<div class="h2" style="left:1697px;top:136px">2.2&nbsp; Heavy ion collisions collisions</div>
<div class="c" style="left:1697px;width:681px">
<div class="l s" style="top:501px"><b>Figure 2.</b> Left panel: The isolated photon-tagged jet asymmetry distributions are shown and compared to ATLAS</div>
<div class="l s" style="top:519px">data in central Pb+Pb collisions at the LHC [12]. The transverse momenta for the isolated photon and the jet are</div>
<div class="l s" style="top:537px"><i>p<sub>T</sub><sup>γ</sup></i> &gt; 60 GeV and <i>p<sub>T</sub><sup>J</sup></i> &gt; 30 GeV, respectively. The jet radius parameter is <i>R</i> = 0.4. Right panel: same comparison</div>
<div class="l s e" style="top:556px">but for CMS data [11] with jet radius <i>R</i> = 0.3.</div>
<div class="l i" style="top:617px">We start from the baseline p+p cross sections obtained from Pythia. However, in heavy ion col-</div>
<div class="l" style="top:637px">lisions we take into account the reaction geometry, the hydrodynamic expansion of the QGP and</div>
<div class="l e" style="top:657px">radiative and collisional energy losses. At an impact parameter |<b>b</b><sub>⊥</sub>| we evaluate the cross sections as</div>
<div class="l" style="top:822px">Here hard production follows the binary collision density ∝ <i>T<sub>A</sub></i>(<b>s</b><sub>⊥</sub> − <b>b</b><sub>⊥</sub>/2)<i>T<sub>A</sub></i>(<b>s</b><sub>⊥</sub> + <b>b</b><sub>⊥</sub>/2) and we</div>
<div class="l" style="top:842px">use an optical Glauber model with inelastic nucleon-nucleon scattering cross sections <i>σ</i><sub>in</sub> = 70 mb</div>
<div class="l" style="top:862px">at √<i>s<sub>NN</sub></i> = 5.02 TeV. In equation 1 <i>P<sub>q,g</sub></i>(ϵ) is the probability that a fraction ϵ of the parent parton is</div>
<div class="l" style="top:882px">redistributed through medium-induced multiple gluon emission. We employ the soft gluon emission</div>
<div class="l" style="top:902px">limit of the of the SCET<sub>G</sub> [19, 20] splitting functions [21, 22] used to predict inclusive light hadron</div>
<div class="l" style="top:922px">attenuation in heavy ion collisions [23, 24]. We note that the spectrum coincides with the original</div>
<div class="l" style="top:942px">energy loss derivation of [25]. Of course, only the fraction of the energy that is redistributed outside</div>
<div class="l e" style="top:963px">of the jet cone leads to jet cross section suppression. We evaluate this fraction as follows</div>
<div class="l" style="top:1068px">Equation 2 treats radiative and collisional energy losses on the same footing since for convenience we</div>
<div class="l" style="top:1088px">have express this total collisional energy loss as an integral over the spectrum of the medium induced</div>
</div>
<div class="eq" style="left:1741px;top:689px"><span class="fr"><span><i>dσ</i><sup>AA</sup>(|<b>b</b><sub>⊥</sub>|)</span><span><i>dp<sub>T</sub><sup>V</sup>dp<sub>T</sub><sup>J</sup></i></span></span>&nbsp;&nbsp;&nbsp;=&nbsp;&nbsp;&nbsp;<span class="int">∫</span><i>d</i><sup>2</sup><b>s</b><sub>⊥</sub><i>T<sub>A</sub></i><span style="font-size:26px">(</span><b>s</b><sub>⊥</sub> − <span class="fr"><span><b>b</b><sub>⊥</sub></span><span>2</span></span><span style="font-size:26px">)</span><i>T<sub>A</sub></i><span style="font-size:26px">(</span><b>s</b><sub>⊥</sub> + <span class="fr"><span><b>b</b><sub>⊥</sub></span><span>2</span></span><span style="font-size:26px">)</span><span style="font-size:24px">Σ</span><sub><i>q,g</i></sub><span class="int">∫</span><sub>0</sub><sup>1</sup><i>d</i>ϵ<span class="fr"><span><i>P<sub>q,g</sub></i>(ϵ; <i>s</i><sub>⊥</sub>, |<b>b</b><sub>⊥</sub>|)</span><span>1 − <i>f</i><sub>q,g</sub><sup>loss</sup>(<i>R</i>; <i>s</i><sub>⊥</sub>, |<b>b</b><sub>⊥</sub>|) ϵ</span></span></div>
<div class="eq" style="left:1862px;top:750px">×<span class="fr"><span><i>dσ</i><sub>q,g</sub><sup>NN</sup>(<i>p<sub>T</sub><sup>V</sup></i>, <i>p<sub>T</sub><sup>J</sup></i>/{1 − <i>f</i><sub>q,g</sub><sup>loss</sup>(<i>R</i>; <i>s</i><sub>⊥</sub>, |<b>b</b><sub>⊥</sub>|) ϵ})</span><span><i>dp<sub>T</sub><sup>J</sup>dp<sub>T</sub><sup>V</sup></i></span></span>.</div>
<div style="position:absolute;left:2358px;top:771px;font-size:14.5px">(1)</div>
<div class="eq" style="left:1741px;top:995px"><i>f</i><sub>q,g</sub><sup>loss</sup>(<i>R</i>; rad + coll) = 1 − <span style="font-size:26px">(</span><span class="int">∫</span><sub>0</sub><sup><i>R</i></sup> <i>dr</i> <span class="int">∫</span><sub>ω<sub>min</sub></sub><sup><i>E</i></sup> <i>dω</i><span class="fr"><span><i>dN</i><sub>q,g</sub><sup><i>g</i></sup>(<i>ω, r</i>)</span><span><i>dωdr</i></span></span><span style="font-size:26px">)</span>/<span style="font-size:26px">(</span><span class="int">∫</span><sub>0</sub><sup><i>R</i><sub>max</sub></sup> <i>dr</i> <span class="int">∫</span><sub>0</sub><sup><i>E</i></sup> <i>dω</i><span class="fr"><span><i>dN</i><sub>q,g</sub><sup><i>g</i></sup>(<i>ω, r</i>)</span><span><i>dωdr</i></span></span><span style="font-size:26px">)</span>.</div>
<div style="position:absolute;left:2358px;top:1015px;font-size:14.5px">(2)</div>

<!-- PAGE 4 -->
<div class="c" style="left:2513px;width:681px">
<div class="l e" style="top:135px">gluons</div>
<div class="l i" style="top:240px">To lowest leading order in perturbative QCD, the transverse momentum of the vector boson is</div>
<div class="l" style="top:260px">balanced by the transverse momentum of the jet, <i>p<sub>T</sub><sup>V</sup></i> = <i>p<sub>T</sub><sup>J</sup></i>. Higher order processes and the develop-</div>
<div class="l" style="top:280px">ment of parton showers introduce deviations from this equality. The exact differential distribution of</div>
<div class="l" style="top:300px"><i>dσ</i>/<i>dp<sub>T</sub><sup>V</sup>dp<sub>T</sub><sup>J</sup></i> is also affected by the jet reconstruction algorithm, jet radius choice, experimental cuts,</div>
<div class="l" style="top:320px">and detector resolution. Nevertheless, the quenching and shift of this distribution to smaller values of</div>
<div class="l" style="top:340px"><i>p<sub>T</sub><sup>J</sup></i> are currently the best proxies for jet energy loss. To study these effects one introduces the trans-</div>
<div class="l" style="top:361px">verse momentum imbalance x<sub>JV</sub> = p<sub>T</sub><sup>J</sup>/p<sub>T</sub><sup>V</sup>. distribution can be obtained from the double differential</div>
<div class="l e" style="top:381px">distribution of V+jet cross section</div>
<div class="l e" style="top:480px">where <i>p<sub>T</sub><sup>J,min</sup></i> and <i>p<sub>T</sub><sup>J,max</sup></i> are matched to the desired cuts of the experimental measurements.</div>
<div class="l i" style="top:501px">In figure 2 we plot the normalized momentum imbalance distributions for the γ+jet final state</div>
<div class="l" style="top:521px">in p+p and Pb+Pb collisions at the LHC. Comparison of the calculations to the ATLAS measure-</div>
<div class="l" style="top:541px">ments [12] are shown in the left panel. Comparison of the calculations to the CMS measurements</div>
<div class="l" style="top:562px">[11] are shown in the right panel. The black dashed histogram shows Pythia 8 simulations for the</div>
<div class="l" style="top:582px">the x<sub>JZ</sub> distribution in p+p collisions. The black solid points represent the ATLAS and CMS results</div>
<div class="l" style="top:602px">in the elementary nucleon-nucleon collisions. It can be seen that the x<sub>JZ</sub> distribution from Pythia</div>
<div class="l" style="top:622px">8 simulation is narrower than the one measured by the experiments. Part of the reason is that ex-</div>
<div class="l" style="top:642px">perimental measurements are not unfolded for detector resolution effects. This can be seen on the</div>
<div class="l" style="top:663px">example of <i>Z</i><sup>0</sup>+jet momentum imbalance by CMS in Ref. for the p+p reference [10]. We applied</div>
<div class="l" style="top:683px">the same smearing functions that experiment applies to Monte Carlo simulations, to our differential</div>
<div class="l" style="top:703px"><i>p<sub>T</sub></i> distributions for p+p and Pb+Pb collisions. We got broader x<sub>JZ</sub> distributions and better agreement</div>
<div class="l" style="top:723px">between the curves to the data points in both p+p and Pb+Pb collisions. In figure 2 we also give</div>
<div class="l" style="top:743px">results of our theoretical calculations in Pb+Pb collisions. The green and magenta histograms corre-</div>
<div class="l" style="top:764px">spond to jet-medium coupling strengths <i>g</i> = 2.0 and <i>g</i> = 2.2, respectively, values that have worked</div>
<div class="l" style="top:784px">well in describing the light inclusive hadron [23, 24] and jet suppression data [18] at the LHC. Our</div>
<div class="l" style="top:804px">results include both medium-induced radiative energy loss and the parton shower's energy dissipation</div>
<div class="l" style="top:824px">of through collisional processes in the QGP. We see the downshift of x<sub>JV</sub>, which quantitatively agrees</div>
<div class="l e" style="top:844px">with measurements in terms of the difference between p+p and Pb+Pb collisions.</div>
<div class="l i" style="top:865px">Another often studied observable sensitive to nuclear modification effects in V+jet systems is I<sub>AA</sub>.</div>
<div class="l" style="top:885px">It is defined as ratio of the differential cross section for tagged jets in A+A collisions to the binary</div>
<div class="l" style="top:905px">collision scaled p+p result. We present I<sub>AA</sub> in isolated γ+jet production at the LHC in 0 − 30%</div>
<div class="l" style="top:925px">Pb+Pb collisions in figure 3. By comparing to CMS experimental data, we find that our theoretical</div>
<div class="l" style="top:945px">results agree with data for a wide kinematic range. In each <i>p<sub>T</sub><sup>γ</sup></i> window, the jet energy loss effects are</div>
<div class="l" style="top:966px">shown in four cases and coded with different colors - two different jet-medium coupling strengths and</div>
<div class="l" style="top:986px">simulations where collisional energy loss effects are either included or excluded. Figure 3 illustrates</div>
<div class="l" style="top:1006px">that there is kinematic sensitivity of I<sub>AA</sub> and the largest suppression is observed along the diagonal</div>
<div class="l" style="top:1026px">region of the transverse momenta of the trigger γ and the recoil jet. The reason for this behavior in</div>
<div class="l" style="top:1047px"><i>p<sub>T</sub><sup>γ</sup></i> ≈ <i>p<sub>T</sub><sup>J</sup></i> arises from the steeper falling cross section in that region. The cross section is suppressed in</div>
<div class="l" style="top:1067px">the region <i>p<sub>T</sub><sup>J</sup></i> &gt; <i>p<sub>T</sub><sup>γ</sup></i> and is. enhanced for <i>p<sub>T</sub><sup>J</sup></i> &lt; <i>p<sub>T</sub><sup>γ</sup></i>. This is characteristic of in-medium tagged-jets as</div>
<div class="l e" style="top:1087px">discussed in previous works [5, 6].</div>
</div>
<div class="eq" style="left:2538px;top:171px;font-size:16px">Δ<i>E</i><sub>q,g</sub><sup>coll</sup>(tot.) = &nbsp;&nbsp;<span style="display:inline-flex;flex-direction:column;align-items:center;font-size:10px"><span><i>N</i><sub>q,g</sub><sup>tot. partons</sup></span><span style="font-size:28px;line-height:28px">Σ</span><span>i=1</span></span>&nbsp;&nbsp;<span class="int">∫</span><sub><i>z<sub>i</sub></i></sub><sup>∞</sup><span class="fr"><span><i>d</i>Δ<i>E<sub>i</sub></i><sup>coll</sup></span><span><i>d</i>Δ<i>z</i></span></span><i>d</i>Δ<i>z</i> , &nbsp;&nbsp;&nbsp;Δ<i>E</i><sub>q,g</sub><sup>coll</sup>(tot.) = <span class="int">∫</span><sub>0</sub><sup>ω<sub>min</sub></sup> &nbsp;<i>dω</i> &nbsp;<span class="int">∫</span><sub>0</sub><sup><i>R</i><sub>max</sub></sup> &nbsp;<i>dr ω</i><span class="fr"><span><i>dN</i><sub>q,g</sub><sup><i>g</i></sup>(<i>ω, r</i>)</span><span><i>dωdr</i></span></span>,</div>
<div style="position:absolute;left:3174px;top:191px;font-size:14.5px">(3)</div>
<div class="eq" style="left:2695px;top:410px"><span class="fr"><span><i>dσ</i></span><span><i>d</i>x<sub>JV</sub></span></span> = <span class="int">∫</span><sub><i>p<sub>T</sub><sup>J,min</sup></i></sub><sup><i>p<sub>T</sub><sup>J,max</sup></i></sup>&nbsp;<i>dp<sub>T</sub><sup>J</sup></i><span class="fr"><span><i>p<sub>T</sub><sup>J</sup></i></span><span>x<sub>JV</sub><sup>2</sup></span></span><span class="fr"><span><i>dσ</i>(<i>p<sub>T</sub><sup>V</sup></i> = <i>p<sub>T</sub><sup>J</sup></i>/x<sub>JV</sub>, <i>p<sub>T</sub><sup>J</sup></i>)</span><span><i>dp<sub>T</sub><sup>V</sup>dp<sub>T</sub><sup>J</sup></i></span></span> ,</div>
<div style="position:absolute;left:3174px;top:430px;font-size:14.5px">(4)</div>

<!-- PAGE 5 -->
<div class="c" style="left:3329px;width:683px">
<div class="l s" style="top:361px"><b>Figure 3.</b> Theoretical results for I<sub>AA</sub> compared to CMS data with several different transverse momentum cuts.</div>
<div class="l s" style="top:380px">Shown are four different scenarios for energy loss effects with and without collisional energy loss and with</div>
<div class="l s e" style="top:399px">couplings between the jet and the medium <i>g</i> = 2.0 and <i>g</i> = 2.2</div>
<div class="l s ctr" style="top:448px"><b>Table 1.</b> Theoretical predictions for the difference of the average x<sub>JZ</sub> between p+p and Pb+Pb 0 − 30% central</div>
<div class="l s ctr" style="top:467px">collisions. The center of mass energy is chosen to be √<i>s</i> = 5.02 TeV, the transverse momentum cut for the</div>
<div class="l s ctr" style="top:486px">recoil jet is <i>p<sub>T</sub><sup>J</sup></i> &gt; 30 GeV, and data is from CMS [10].</div>
<div class="l i" style="top:668px">To better quantify the shift toward smaller values of the x<sub>JV</sub> distribution, we introduce the mean</div>
<div class="l e" style="top:689px">value of x<sub>JV</sub> and the difference between proton and heavy ion collisions</div>
<div class="l" style="top:779px">The calculated downshifts of the x<sub>JV</sub> distribution is consistent with the experimental data [10] within</div>
<div class="l" style="top:799px">the measurement uncertainties for different <i>p<sub>T</sub><sup>Z</sup></i> cuts. More importantly, when the downshift is recast</div>
<div class="l" style="top:820px">into energy loss of the jet recoiling against the <i>Z</i><sup>0</sup> boson, we find that this experimentally determined</div>
<div class="l" style="top:840px">jet energy loss corresponds within 15% accuracy to the theoretically computed energy redistributed</div>
<div class="l e" style="top:861px">out of the jet cone due to in-medium interactions of the parton shower</div>
<div class="l e" style="top:945px">We now turn to the question of jet substructure in heavy ion collisions.</div>
<div class="l" style="top:1026px">A new jet substructure observable, called the groomed momentum sharing, was recently proposed</div>
<div class="l" style="top:1047px">and studied using the soft drop jet grooming procedure [26, 27]. It is sensitive to the hard branching</div>
<div class="l" style="top:1067px">in the jet formation and is controlled by the leading-order Altarelli-Parisi splitting functions. Hav-</div>
<div class="l" style="top:1088px">ing reconstructed a jet of radius <i>R</i> using the anti-<i>k<sub>T</sub></i> algorithm, one can recluster the jet using the</div>
</div>
<div class="eq" style="left:3411px;top:715px">⟨x<sub>JV</sub>⟩ = <span style="font-size:26px">(</span><span class="int">∫</span> <i>d</i>x<sub>JV</sub>x<sub>JV</sub><span class="fr"><span><i>dσ</i></span><span><i>d</i>x<sub>JV</sub></span></span><span style="font-size:26px">)</span>/<span style="font-size:26px">(</span><span class="int">∫</span> <i>d</i>x<sub>JV</sub><span class="fr"><span><i>dσ</i></span><span><i>d</i>x<sub>JV</sub></span></span><span style="font-size:26px">)</span>, &nbsp;&nbsp; Δ⟨x<sub>JV</sub>⟩ = ⟨x<sub>JV</sub>⟩<sub>pp</sub> − ⟨x<sub>JV</sub>⟩<sub>PbPb</sub>.</div>
<div style="position:absolute;left:3991px;top:735px;font-size:14.5px">(5)</div>
<div class="h1" style="left:3329px;top:909px">3&nbsp; Jet substructure</div>
<div class="h2" style="left:3329px;top:994px">3.1&nbsp; Momentum sharing distributions</div>
</body></html>
